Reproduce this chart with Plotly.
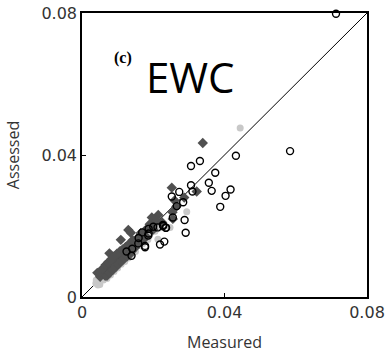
import plotly.graph_objects as go

# Values (x = Measured, y = Assessed)
circ_x = [0.0432, 0.0306, 0.0331, 0.0374, 0.0356, 0.0364, 0.0306, 0.0310, 0.0273, 0.0417,
          0.0403, 0.0388, 0.0252, 0.0284, 0.0266, 0.0255, 0.0288, 0.0291, 0.0227, 0.0235,
          0.0212, 0.0200, 0.0187, 0.0187, 0.0169, 0.0186, 0.0159, 0.0177, 0.0177, 0.0141,
          0.0125, 0.0139, 0.0219, 0.0231, 0.0158, 0.0713, 0.0584, 0.0228, 0.0236]
circ_y = [0.0398, 0.0369, 0.0383, 0.0350, 0.0322, 0.0299, 0.0315, 0.0297, 0.0296, 0.0303,
          0.0285, 0.0254, 0.0283, 0.0267, 0.0256, 0.0224, 0.0217, 0.0181, 0.0203, 0.0195,
          0.0196, 0.0198, 0.0192, 0.0179, 0.0182, 0.0173, 0.0166, 0.0144, 0.0140, 0.0136,
          0.0128, 0.0116, 0.0148, 0.0156, 0.0151, 0.0798, 0.0411, 0.0200, 0.0195]

dia_x = [0.0339, 0.0252, 0.0322, 0.0287, 0.0260, 0.0265, 0.0254, 0.0255, 0.0214, 0.0196,
         0.0130, 0.0137, 0.0109, 0.0077, 0.0043, 0.0051, 0.0165, 0.0180, 0.0170, 0.0155,
         0.0145, 0.0225, 0.0200, 0.0190,
         0.0060, 0.0065, 0.0070, 0.0070, 0.0075, 0.0078, 0.0080, 0.0082, 0.0085, 0.0088,
         0.0090, 0.0092, 0.0095, 0.0098, 0.0100, 0.0102, 0.0105, 0.0108, 0.0110, 0.0113,
         0.0115, 0.0118, 0.0120, 0.0123, 0.0125, 0.0128, 0.0130, 0.0135, 0.0140, 0.0062,
         0.0068, 0.0072, 0.0084, 0.0096, 0.0106, 0.0074, 0.0086, 0.0094, 0.0104, 0.0116,
         0.0126, 0.0065, 0.0055, 0.0132, 0.0148, 0.0110, 0.0122, 0.0160, 0.0150,
         0.0050, 0.0058, 0.0066, 0.0074, 0.0082, 0.0090, 0.0098, 0.0106, 0.0114,
         0.0070, 0.0078, 0.0086, 0.0094, 0.0102, 0.0110, 0.0118, 0.0126, 0.0134,
         0.0140, 0.0145, 0.0150, 0.0135, 0.0128, 0.0142, 0.0155, 0.0165, 0.0175,
         0.0185, 0.0200, 0.0210]
dia_y = [0.0434, 0.0308, 0.0297, 0.0280, 0.0272, 0.0255, 0.0239, 0.0220, 0.0231, 0.0224,
         0.0189, 0.0181, 0.0161, 0.0123, 0.0068, 0.0057, 0.0175, 0.0170, 0.0160, 0.0150,
         0.0148, 0.0210, 0.0190, 0.0205,
         0.0065, 0.0072, 0.0075, 0.0082, 0.0080, 0.0088, 0.0078, 0.0090, 0.0085, 0.0095,
         0.0088, 0.0100, 0.0095, 0.0105, 0.0098, 0.0110, 0.0103, 0.0115, 0.0108, 0.0120,
         0.0113, 0.0125, 0.0118, 0.0130, 0.0122, 0.0135, 0.0125, 0.0138, 0.0142, 0.0078,
         0.0068, 0.0090, 0.0102, 0.0112, 0.0124, 0.0070, 0.0080, 0.0088, 0.0096, 0.0106,
         0.0116, 0.0060, 0.0068, 0.0148, 0.0138, 0.0130, 0.0140, 0.0152, 0.0158,
         0.0070, 0.0080, 0.0090, 0.0098, 0.0106, 0.0114, 0.0122, 0.0128, 0.0134,
         0.0060, 0.0068, 0.0076, 0.0084, 0.0092, 0.0100, 0.0108, 0.0114, 0.0120,
         0.0130, 0.0140, 0.0145, 0.0150, 0.0145, 0.0160, 0.0165, 0.0180, 0.0185,
         0.0195, 0.0205, 0.0215]

lg_x = [0.0294, 0.0247, 0.0213, 0.0444, 0.0039, 0.0048, 0.0055, 0.0065, 0.0075, 0.0085,
        0.0095, 0.0105, 0.0115, 0.0125, 0.0135, 0.0145, 0.0160, 0.0175, 0.0190, 0.0045,
        0.0205, 0.0220, 0.0060, 0.0080, 0.0090, 0.0100, 0.0110, 0.0120, 0.0130, 0.0140,
        0.0050, 0.0070, 0.0150, 0.0170, 0.0185, 0.0040]
lg_y = [0.0240, 0.0196, 0.0163, 0.0476, 0.0039, 0.0046, 0.0050, 0.0058, 0.0068, 0.0078,
        0.0085, 0.0095, 0.0105, 0.0112, 0.0122, 0.0130, 0.0145, 0.0158, 0.0175, 0.0034,
        0.0185, 0.0195, 0.0048, 0.0062, 0.0072, 0.0082, 0.0092, 0.0100, 0.0110, 0.0118,
        0.0035, 0.0052, 0.0128, 0.0150, 0.0162, 0.0048]

line_x = [0, 0.08]
line_y = [0, 0.08]
tick_vals = [0, 0.04, 0.08]
tick_text = ["0", "0.04", "0.08"]

fig = go.Figure()
fig.add_trace(go.Scatter(x=line_x, y=line_y, mode="lines",
                         line=dict(color="black", width=1), hoverinfo="skip"))
fig.add_trace(go.Scatter(x=lg_x, y=lg_y, mode="markers", cliponaxis=False,
                         marker=dict(symbol="circle", size=7, color="#c8c8c8")))
fig.add_trace(go.Scatter(x=dia_x, y=dia_y, mode="markers", cliponaxis=False,
                         marker=dict(symbol="diamond", size=8, color="#505050")))
fig.add_trace(go.Scatter(x=circ_x, y=circ_y, mode="markers", cliponaxis=False,
                         marker=dict(symbol="circle-open", size=7,
                                     color="black", line=dict(width=1.4))))

axis_common = dict(range=[0, 0.08], tickvals=tick_vals, ticktext=tick_text,
                   showline=True, linecolor="black", linewidth=1.5, mirror=True,
                   ticks="inside", ticklen=4, tickcolor="black", showgrid=False,
                   zeroline=False, automargin=False,
                   tickfont=dict(family="DejaVu Sans", size=16, color="#333"))

fig.update_layout(
    width=390, height=353,
    margin=dict(l=82, r=23, t=13, b=56),
    paper_bgcolor="white", plot_bgcolor="white",
    showlegend=False,
    xaxis=dict(**axis_common,
               title=dict(text="Measured", font=dict(family="Open Sans", size=16, color="#333"),
                          standoff=17)),
    yaxis=dict(**axis_common,
               title=dict(text="Assessed", font=dict(family="Open Sans", size=16, color="#333"),
                          standoff=18)),
    annotations=[
        dict(x=0.382, y=0.776, xref="paper", yref="paper", text="EWC", showarrow=False,
             font=dict(family="Open Sans", size=42, color="black"),
             xanchor="center", yanchor="middle"),
        dict(x=0.144, y=0.84, xref="paper", yref="paper", text="<b>(c)</b>", showarrow=False,
             font=dict(family="Liberation Serif", size=16, color="black"),
             xanchor="center", yanchor="middle"),
    ],
)

fig.write_html("out.html")
